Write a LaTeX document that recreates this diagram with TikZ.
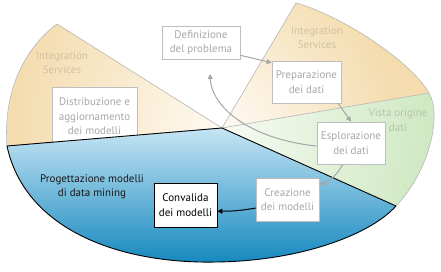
\documentclass[tikz,border=0pt]{standalone}
\usepackage{fontspec}
\setmainfont{PT Sans}
\usetikzlibrary{arrows.meta}
\definecolor{beigeD}{HTML}{F4DCAE}
\definecolor{beigeL}{HTML}{FEFAF3}
\definecolor{greenD}{HTML}{D0E9C3}
\definecolor{greenL}{HTML}{F7FBF4}
\definecolor{blueT}{HTML}{C6E5F4}
\definecolor{blueB}{HTML}{1387BE}
\definecolor{edgegray}{HTML}{B8B8B8}
\definecolor{boxgray}{HTML}{BEBEBE}
\definecolor{txtgray}{HTML}{A8A8A8}
\definecolor{beigetxt}{HTML}{D2C2A2}
\definecolor{greentxt}{HTML}{B5C4AD}
\definecolor{arrgray}{HTML}{A6A6A6}
\begin{document}
\begin{tikzpicture}[x=1pt,y=-1pt,
  edge/.style={draw=edgegray,line width=0.6pt},
  lbl/.style={align=center,inner sep=0pt,font=\fontsize{11}{14.5}\selectfont},
  box/.style={draw=boxgray,fill=white,line width=0.7pt,align=center,inner sep=0pt,
    text=txtgray,font=\fontsize{11}{14.5}\selectfont},
  garrow/.style={draw=arrgray,line width=1pt,-{Triangle[length=5pt,width=5pt]}},
  barrow/.style={draw=black,line width=1pt,-{Triangle[length=5pt,width=5pt]}}]
\useasboundingbox (0,0) rectangle (441,271);
\coordinate (C) at (222,128);
\coordinate (L) at (7,146);
\coordinate (R) at (396,206);
\coordinate (T1) at (57,24);
\coordinate (T2) at (296,3);
\coordinate (G) at (429,93);
\coordinate (B) at (216,262);
% left beige wedge
\begin{scope}
\clip (C) -- (T1) .. controls (25,48) and (3,90) .. (L) -- cycle;
\fill[beigeD] (0,0) rectangle (441,271);
\shade[inner color=beigeL,outer color=beigeD] (C) circle[radius=210pt];
\end{scope}
% right beige wedge
\begin{scope}
\clip (C) -- (T2) .. controls (340,15) and (410,60) .. (G) -- cycle;
\fill[beigeD] (0,0) rectangle (441,271);
\shade[inner color=beigeL,outer color=beigeD] (C) circle[radius=175pt];
\end{scope}
% green wedge
\begin{scope}
\clip (C) -- (G) .. controls (442,115) and (430,170) .. (R) -- cycle;
\fill[greenD] (0,0) rectangle (441,271);
\shade[inner color=greenL,outer color=greenD] (C) circle[radius=205pt];
\end{scope}
\draw[edge] (L) -- (C) -- (T1) .. controls (25,48) and (3,90) .. (L);
\draw[edge] (C) -- (T2) .. controls (340,15) and (410,60) .. (G) -- (C);
\draw[edge] (G) .. controls (442,115) and (430,170) .. (R);
% labels
\node[lbl,text=beigetxt] (is1) at (62,62.5) {Integration\\Services};
\node[lbl,text=beigetxt] (is2) at (317,37.5) {Integration\\Services};
\node[lbl,text=greentxt] (vod) at (398,120) {Vista origine\\dati};
% boxes
\node[box,minimum width=85pt,minimum height=59pt] (dist) at (94.5,116.5) {Distribuzione e\\aggiornamento\\dei modelli};
\node[box,minimum width=78pt,minimum height=33pt] (def) at (201,42.5) {Definizione\\del problema};
\node[box,minimum width=69pt,minimum height=42pt] (prep) at (306.5,82) {Preparazione\\dei dati};
\node[box,minimum width=68pt,minimum height=42pt] (espl) at (351,143) {Esplorazione\\dei dati};
\coordinate (defin) at (210,74);
\draw[garrow] (espl.185) .. controls (255,140) and (212,110) .. (defin);
% blue wedge
\shade[top color=blueT,bottom color=blueB] (L) -- (C) -- (R) .. controls (370,235) and (300,261) .. (B) .. controls (120,264) and (25,230) .. (L) -- cycle;
\draw[black,line width=0.9pt,line join=round] (L) -- (C) -- (R) .. controls (370,235) and (300,261) .. (B) .. controls (120,264) and (25,230) .. (L) -- cycle;
\node[lbl,text=black!90] (prog) at (92,187) {Progettazione modelli\\di data mining};
\node[box,minimum width=63pt,minimum height=43pt] (crea) at (287.5,199.5) {Creazione\\dei modelli};
\node[box,draw=black,text=black,minimum width=63pt,minimum height=44pt] (conv) at (185.5,205) {Convalida\\dei modelli};
% arrows
\draw[garrow] (def.-18) -- (prep.151);
\draw[garrow] (prep.-34) -- (espl.north);
\draw[garrow] (espl.-111) to[bend left=20] (crea.25);
\draw[barrow] (crea.195) to[bend left=5] (conv.-11);
\end{tikzpicture}
\end{document}
